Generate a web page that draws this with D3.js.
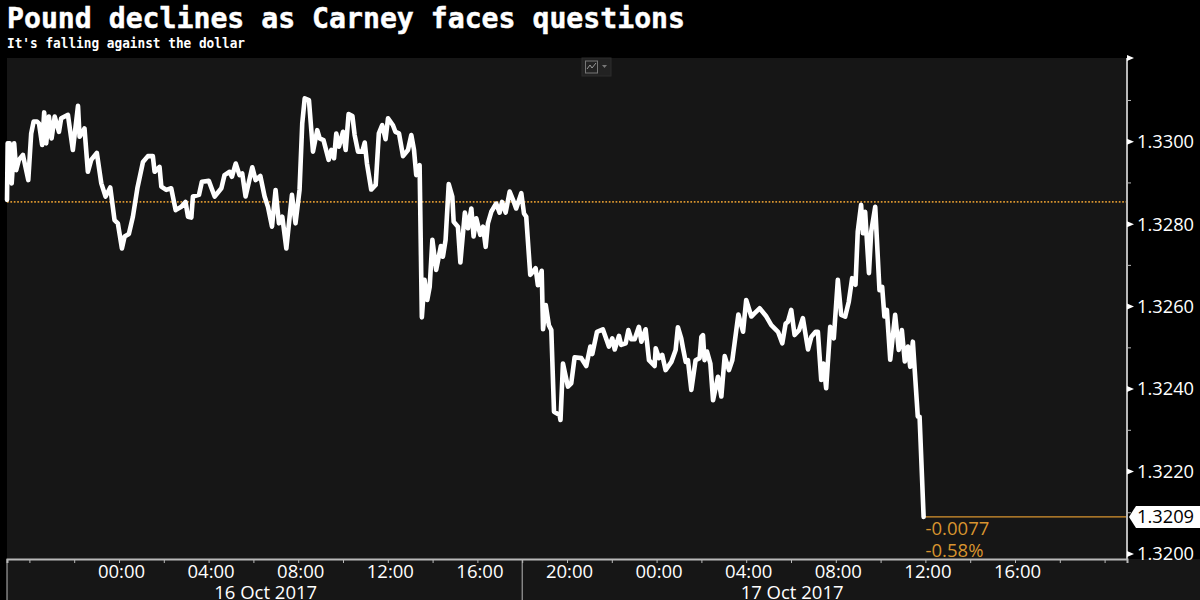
<!DOCTYPE html>
<html>
<head>
<meta charset="utf-8">
<script src="https://cdn.jsdelivr.net/npm/d3@7/dist/d3.min.js"></script>
<style>
html,body{margin:0;padding:0;background:#000;overflow:hidden}
svg{display:block}
</style>
</head>
<body>
<svg id="c" width="1200" height="600"></svg>
<script>
const title = "Pound declines as Carney faces questions";
const subtitle = "It's falling against the dollar";
const hours = [-5.00,-4.97,-4.88,-4.79,-4.68,-4.59,-4.47,-4.29,-4.05,-3.92,-3.81,-3.66,-3.57,-3.43,-3.34,-3.25,-3.13,-3.01,-2.87,-2.68,-2.58,-2.28,-2.06,-1.83,-1.76,-1.54,-1.39,-1.24,-0.99,-0.79,-0.60,-0.39,-0.20,-0.05,0.13,0.25,0.44,0.62,0.82,1.07,1.29,1.51,1.59,1.81,1.89,2.11,2.33,2.53,2.78,2.97,3.08,3.23,3.30,3.57,3.70,4.01,4.27,4.57,4.71,4.94,5.04,5.21,5.38,5.50,5.65,5.95,6.10,6.31,6.50,6.65,6.83,6.99,7.14,7.29,7.47,7.72,7.88,8.06,
8.18,8.29,8.48,8.66,8.85,8.96,9.13,9.36,9.48,9.60,9.70,9.82,10.00,10.12,10.25,10.42,10.52,10.67,10.86,10.97,11.07,11.26,11.46,11.60,11.75,11.90,12.01,12.23,12.34,12.50,12.68,12.90,13.05,13.17,13.27,13.42,13.52,13.64,13.76,13.87,13.99,14.16,14.37,14.46,14.58,14.72,14.88,14.94,15.13,15.24,15.44,15.58,15.73,15.83,15.95,16.13,16.25,16.37,16.47,16.62,16.84,16.99,17.10,17.26,17.44,17.59,17.73,17.96,18.08,18.18,18.36,18.60,18.70,18.87,18.93,
19.05,19.19,19.30,19.42,19.67,19.71,19.82,20.04,20.19,20.34,20.64,20.86,21.04,21.13,21.34,21.60,21.87,22.02,22.13,22.32,22.42,22.62,22.74,22.87,23.02,23.21,23.32,23.51,23.66,23.91,23.96,24.11,24.25,24.40,24.66,24.85,24.95,25.10,25.18,25.30,25.40,25.55,25.74,25.92,26.00,26.07,26.14,26.25,26.40,26.52,26.74,26.89,27.04,27.23,27.38,27.65,27.86,28.00,28.23,28.38,28.60,28.90,29.12,29.42,29.61,29.76,29.86,30.01,30.16,30.36,30.53,30.76,30.91,31.10,31.20,31.35,31.45,31.57,31.75,31.91,32.09,32.24,32.42,32.58,32.73,32.88,32.98,33.13,33.21,33.31,33.48,33.58,33.76,33.95,34.07,34.17,34.28,34.43,34.65,34.81,34.95,35.08,35.22,35.32,35.44,35.66,35.74,35.92];
const prices = [1.32859,1.32996,1.32996,1.32899,1.32996,1.32931,1.32956,1.32968,1.32907,1.33020,1.33049,1.33049,1.33044,1.32992,1.33071,1.32996,1.33061,1.33008,1.33061,1.33024,1.33057,1.33065,1.32980,1.33087,1.33012,1.33032,1.32927,1.32956,1.32973,1.32899,1.32867,1.32889,1.32810,1.32802,1.32741,1.32770,1.32776,1.32818,1.32887,1.32951,1.32965,1.32965,1.32927,1.32939,1.32891,1.32883,1.32887,1.32834,1.32842,1.32854,1.32818,1.32816,1.32867,1.32871,1.32903,1.32905,1.32867,1.32887,1.32919,1.32927,1.32915,1.32947,1.32919,1.32923,1.32867,1.32938,1.32907,1.32917,1.32867,1.32842,1.32794,1.32883,1.32802,1.32818,1.32741,1.32871,1.32802,1.32883,
1.33044,1.33105,1.33101,1.32976,1.33028,1.33008,1.33004,1.32956,1.32980,1.32960,1.33020,1.32988,1.33024,1.32980,1.33067,1.33062,1.33016,1.32976,1.32976,1.32998,1.32947,1.32884,1.32895,1.33020,1.33040,1.33006,1.33057,1.33040,1.33024,1.33020,1.32965,1.32980,1.33016,1.32980,1.32919,1.32943,1.32574,1.32665,1.32616,1.32648,1.32762,1.32689,1.32747,1.32721,1.32762,1.32897,1.32867,1.32806,1.32794,1.32707,1.32828,1.32790,1.32838,1.32770,1.32814,1.32774,1.32794,1.32745,1.32802,1.32830,1.32850,1.32828,1.32854,1.32828,1.32879,1.32859,1.32838,1.32875,1.32826,1.32818,1.32677,1.32693,1.32652,1.32687,1.32545,
1.32604,1.32555,1.32543,1.32345,1.32337,1.32325,1.32462,1.32406,1.32414,1.32477,1.32475,1.32456,1.32503,1.32485,1.32539,1.32545,1.32503,1.32523,1.32496,1.32529,1.32507,1.32511,1.32543,1.32521,1.32521,1.32551,1.32515,1.32545,1.32470,1.32456,1.32499,1.32475,1.32483,1.32446,1.32466,1.32495,1.32550,1.32523,1.32499,1.32466,1.32470,1.32398,1.32470,1.32475,1.32527,1.32531,1.32470,1.32491,1.32462,1.32373,1.32430,1.32382,1.32480,1.32446,1.32470,1.32581,1.32539,1.32616,1.32576,1.32584,1.32596,1.32576,1.32555,1.32539,1.32511,1.32559,1.32563,1.32592,1.32531,1.32543,1.32572,1.32496,1.32527,1.32539,1.32539,1.32422,1.32462,1.32402,1.32551,1.32523,1.32665,1.32580,1.32576,1.32612,1.32669,1.32653,1.32782,1.32847,1.32778,1.32830,1.32681,1.32782,1.32842,1.32640,1.32648,1.32576,1.32592,1.32471,1.32580,1.32495,1.32543,1.32467,1.32503,1.32454,1.32515,1.32333,1.32333,1.32090];
const previousClose = 1.32854;
const lastPrice = 1.3209;
const lastPriceLabel = "1.3209";
const changeLabels = ["-0.0077", "-0.58%"];
const xTickHours = [-4,-2,0,2,4,6,8,10,12,14,16,18,20,22,24,26,28,30,32,34,36,38,40,42,44];
const xLabelHours = [0,4,8,12,16,20,24,28,32,36,40];
const xLabels = ["00:00","04:00","08:00","12:00","16:00","20:00","00:00","04:00","08:00","12:00","16:00"];
const dateLabels = ["16 Oct 2017","17 Oct 2017"];
const dateHours = [6.55,30.05];
const dateSeparators = [-5,18];
const yMinorTicks = [1.321,1.323,1.325,1.327,1.329,1.331];
const yMajorTicks = [1.32,1.322,1.324,1.326,1.328,1.33];

const L=7,R=1127,T=58,B=559;
const labelFont = '"Open Sans", sans-serif';
const grey = "#b9b9b9", orange = "#d8942f";
const x = d3.scaleLinear().domain([-5,45]).range([L,R]);
const y = d3.scaleLinear().domain([1.32,1.33]).range([554,141.7]);
const svg = d3.select("#c");

svg.append("rect").attr("width",1200).attr("height",600).attr("fill","#000");
svg.append("rect").attr("x",L).attr("y",T).attr("width",R-L).attr("height",B-T).attr("fill","#161616");
svg.append("rect").attr("x",L).attr("y",B).attr("width",1200-L).attr("height",600-B).attr("fill","#161616");

svg.append("text").attr("x",7).attr("y",28)
  .attr("font-family",'"DejaVu Sans Mono", monospace').attr("font-weight","bold").attr("font-size",29)
  .attr("textLength",678).attr("lengthAdjust","spacingAndGlyphs")
  .attr("fill","#fff").attr("stroke","#fff").attr("stroke-width",0.5).text(title);
svg.append("text").attr("x",7).attr("y",48)
  .attr("font-family",'"DejaVu Sans Mono", monospace').attr("font-weight","bold").attr("font-size",14.5)
  .attr("textLength",238).attr("lengthAdjust","spacingAndGlyphs")
  .attr("fill","#fff").text(subtitle);

// chart-type button
const btn = svg.append("g").attr("transform","translate(582,58)");
btn.append("rect").attr("width",29).attr("height",18).attr("fill","#222").attr("stroke","#2c2c2c");
btn.append("rect").attr("x",3.5).attr("y",3).attr("width",12).attr("height",12).attr("fill","none").attr("stroke","#777");
btn.append("path").attr("d","M5 11L8 7L10 10L14 5").attr("fill","none").attr("stroke","#999");
btn.append("path").attr("d","M20 7h5l-2.5 3z").attr("fill","#777");

// reference lines
svg.append("line").attr("x1",L).attr("x2",R).attr("y1",y(previousClose)).attr("y2",y(previousClose))
  .attr("stroke",orange).attr("stroke-width",1.6).attr("stroke-dasharray","1.7 1.7");
svg.append("line").attr("x1",x(hours[hours.length-1])).attr("x2",R).attr("y1",y(lastPrice)).attr("y2",y(lastPrice))
  .attr("stroke",orange).attr("stroke-width",1.2);

// price line
svg.append("path").datum(hours.map((h,i)=>[h,prices[i]]))
  .attr("fill","none").attr("stroke","#fff").attr("stroke-width",4.6)
  .attr("stroke-linejoin","round").attr("stroke-linecap","round")
  .attr("d",d3.line().x(d=>x(d[0])).y(d=>y(d[1])));

// change labels
changeLabels.forEach((t,i)=>svg.append("text")
  .attr("x",x(hours[hours.length-1])+2).attr("y",y(lastPrice)+18+i*22)
  .attr("font-family",labelFont).attr("font-size",18.5).attr("fill",orange).text(t));

// x axis
const xAxis = d3.axisBottom(x).tickValues(xTickHours).tickSize(4)
  .tickFormat(h=>{const i=xLabelHours.indexOf(h);return i<0?"":xLabels[i];});
const gx = svg.append("g").attr("transform",`translate(0,${B})`).call(xAxis);
gx.select(".domain").attr("stroke",grey).attr("stroke-width",2);
gx.selectAll(".tick line").attr("stroke",grey);
gx.selectAll(".tick text").attr("fill","#fff").attr("font-family",labelFont).attr("font-size",18.5)
  .attr("dx",2).attr("y",6).attr("dy","0.71em");
dateSeparators.forEach(h=>svg.append("line").attr("x1",x(h)).attr("x2",x(h)).attr("y1",B).attr("y2",600)
  .attr("stroke",grey).attr("stroke-width",1));
dateLabels.forEach((t,i)=>svg.append("text").attr("x",x(dateHours[i])).attr("y",598.5).attr("text-anchor","middle")
  .attr("fill","#fff").attr("font-family",labelFont).attr("font-size",18.5).text(t));

// y axis
const gy = svg.append("g").attr("transform",`translate(${R},0)`)
  .call(d3.axisRight(y).tickValues(yMajorTicks).tickSize(0).tickPadding(10).tickFormat(d3.format(".4f")));
gy.select(".domain").remove();
gy.selectAll(".tick text").attr("fill","#fff").attr("font-family",labelFont).attr("font-size",18.3);
svg.append("line").attr("x1",R).attr("x2",R).attr("y1",T).attr("y2",B+1).attr("stroke",grey).attr("stroke-width",2);
yMinorTicks.forEach(v=>svg.append("line").attr("x1",R).attr("x2",R+4).attr("y1",y(v)).attr("y2",y(v)).attr("stroke",grey));
yMajorTicks.concat([1.33203]).forEach(v=>svg.append("path")
  .attr("d",`M${R},${y(v)-3}L${R+7},${y(v)}L${R},${y(v)+3}Z`).attr("fill","#fff"));

// last price tag
const ly = y(lastPrice);
svg.append("path").attr("d",`M1129,${ly}L1136,${ly-11}H1200V${ly+11}H1136Z`).attr("fill","#fff");
svg.append("text").attr("x",1137).attr("y",ly+6.5).attr("fill","#000")
  .attr("font-family",labelFont).attr("font-size",18.3).text(lastPriceLabel);
</script>
</body>
</html>
